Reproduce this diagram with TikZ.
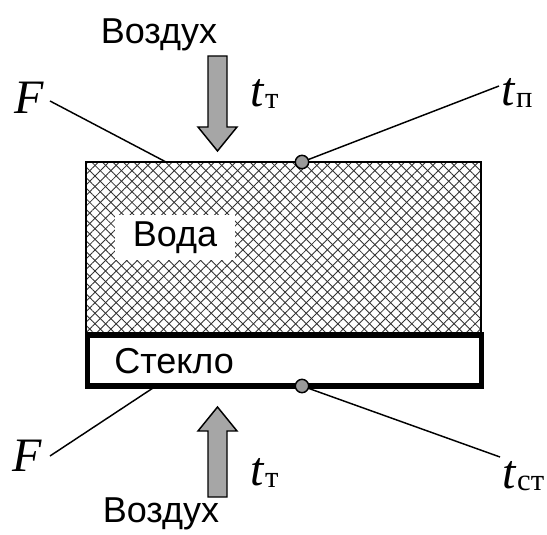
\documentclass[tikz,border=0pt]{standalone}
\usepackage{fontspec}
\setmainfont{Liberation Serif}
\setsansfont{Liberation Sans}
\usetikzlibrary{patterns.meta}
\definecolor{airgray}{HTML}{A6A6A6}
\definecolor{probegray}{HTML}{9A9A9A}
\newcommand{\tsym}[1]{\textit{t}\kern0.5pt\raisebox{-1.5pt}{\fontsize{23}{23}\selectfont #1}}

\begin{document}
\begin{tikzpicture}[x=0.75pt,y=-0.75pt,
    lbl/.style={font=\fontsize{36}{36}\selectfont,inner sep=0pt},
    word/.style={font=\sffamily\fontsize{27}{27}\selectfont,inner sep=0pt},
    lead/.style={line width=1.1pt},
    probe/.style={circle,draw,line width=1.1pt,fill=probegray,minimum size=10pt,inner sep=0pt},
    airarrow/.style={draw,line width=1.1pt,fill=airgray,line join=miter},
    hatch/.style={pattern={Lines[angle=45,distance=5.6pt,line width=0.65pt]},pattern color=black!80}]
    \useasboundingbox (0,0) rectangle (547,535);
    % water layer
    \path[hatch] (86,162) rectangle (481,335);
    \path[pattern={Lines[angle=-45,distance=5.6pt,line width=0.65pt]},pattern color=black!80] (86,162) rectangle (481,335);
    \draw[line width=0.8pt] (86,162) rectangle (481,335);
    \node[word,fill=white,minimum width=90pt,minimum height=34pt] (voda) at (175,237.5) {Вода};
    % glass
    \draw[line width=4.1pt,fill=white] (87.5,335) rectangle (481.5,386);
    \node[word,anchor=base west] (steklo) at (114,373) {Стекло};
    % air, top and bottom
    \node[word,anchor=base] (airT) at (159,44) {Воздух};
    \node[word,anchor=base] (airB) at (161,522) {Воздух};
    \draw[airarrow] (208,56) -- (227,56) -- (227,127) -- (237,127) -- (217.5,151) -- (198,127) -- (208,127) -- cycle;
    \draw[airarrow] (208,497) -- (227,497) -- (227,431) -- (237,431) -- (217.5,407) -- (198,431) -- (208,431) -- cycle;
    \node[lbl,anchor=base west] (ttT) at (250,107) {\tsym{т}};
    \node[lbl,anchor=base west] (ttB) at (250,485) {\tsym{т}};
    % surface F
    \node[lbl,anchor=base west] (FT) at (14,114) {\textit{F}};
    \node[lbl,anchor=base west] (FB) at (12,471) {\textit{F}};
    \coordinate (fta) at (50,101);
    \coordinate (ftb) at (166,162);
    \coordinate (fba) at (50,456);
    \coordinate (fbb) at (153,388);
    \draw[lead] (fta) -- (ftb);
    \draw[lead] (fba) -- (fbb);
    % probes
    \node[lbl,anchor=base west] (tp) at (501,106) {\tsym{п}};
    \node[lbl,anchor=base west] (tst) at (502,488) {\tsym{ст}};
    \coordinate (tpa) at (499,86);
    \coordinate (tsta) at (500,457);
    \node[probe] (pw) at (302,162) {};
    \node[probe] (pg) at (302,386) {};
    \draw[lead] (pw) -- (tpa);
    \draw[lead] (pg) -- (tsta);
\end{tikzpicture}
\end{document}
